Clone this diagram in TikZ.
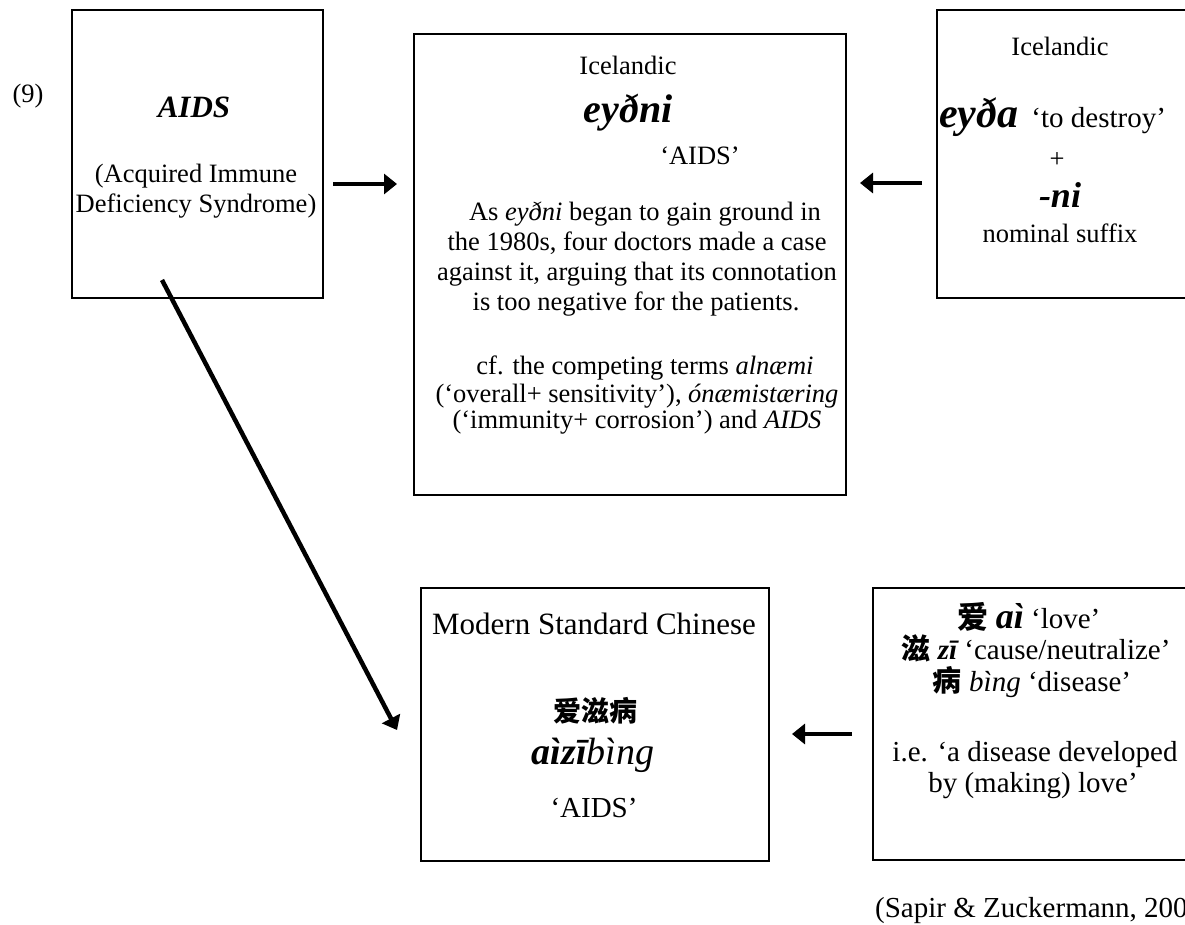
\documentclass[tikz,border=0pt]{standalone}
\usepackage{fontspec}
\setmainfont{Liberation Serif}
\newfontfamily\cjk{Noto Sans CJK SC}
\usetikzlibrary{arrows.meta}
\newcommand{\fs}[1]{\fontsize{#1}{#1}\selectfont}
\newcommand{\bi}[1]{{\bfseries\itshape #1}}
\begin{document}
\begin{tikzpicture}[x=1pt,y=-1pt,
  box/.style={draw, line width=1.6pt, inner sep=0pt, anchor=north west},
  conn/.style={line width=4.5pt, -{Triangle[length=13pt,width=20pt]}},
  t/.style={inner sep=0pt, anchor=mid, font=\fs{26.5}},
  tb/.style={inner sep=0pt, anchor=mid, font=\fs{29}},
]
\useasboundingbox (0,0) rectangle (1185,925);

% boxes
\node[box, minimum width=251pt, minimum height=288pt] (src) at (71,9) {};
\node[box, minimum width=432pt, minimum height=461pt] (ice) at (413,33) {};
\node[box, minimum width=256pt, minimum height=288pt] (icesrc) at (936,9) {};
\node[box, minimum width=348pt, minimum height=273pt] (msc) at (420,587) {};
\node[box, minimum width=320pt, minimum height=272pt] (mscsrc) at (872,587) {};

% connector ends
\coordinate (a1s) at (333,184);
\coordinate (a1e) at (397,184);
\coordinate (a2s) at (922,183);
\coordinate (a2e) at (860,183);
\coordinate (a3s) at (162,280);
\coordinate (a3e) at (397,730);
\coordinate (a4s) at (852,734);
\coordinate (a4e) at (792,734);
\draw[conn] (a1s) -- (a1e);
\draw[conn] (a2s) -- (a2e);
\draw[conn] (a3s) -- (a3e);
\draw[conn] (a4s) -- (a4e);

% left box
\node[t] (num) at (28,100) {(9)};
\node[t, font=\fs{31}] (aids) at (194,115) {\bi{AIDS}};
\node[t] (acq1) at (196,180) {(Acquired Immune};
\node[t] (acq2) at (196,210) {Deficiency Syndrome)};

% centre box
\node[t] (ice1) at (628,72) {Icelandic};
\node[t, font=\fs{40}] (eydni) at (628,120) {\bi{eyðni}};
\node[t] (ice3) at (700,162) {‘AIDS’};
\node[t] (p1) at (645,218) {As \textit{eyðni} began to gain ground in};
\node[t] (p2) at (637,248) {the 1980s, four doctors made a case};
\node[t] (p3) at (637,278) {against it, arguing that its connotation};
\node[t] (p4) at (636,308) {is too negative for the patients.};
\node[t] (p5) at (645,372) {cf. the competing terms \textit{alnæmi}};
\node[t] (p6) at (637,400) {(‘overall+ sensitivity’), \textit{ónæmistæring}};
\node[t] (p7) at (637,426) {(‘immunity+ corrosion’) and \textit{AIDS}};

% right top box
\node[t] (r1) at (1060,53) {Icelandic};
\node[t, anchor=mid west] (r2) at (939,125) {{\fs{42}\bi{eyða}}\hspace{13pt}{\fs{29}‘to destroy’}};
\node[t] (r3) at (1057,165) {+};
\node[t, font=\fs{36}] (r4) at (1060,205) {\bi{-ni}};
\node[t] (r5) at (1060,240) {nominal suffix};

% bottom centre box
\node[tb, font=\fs{31}] (m1) at (594,632) {Modern Standard Chinese};
\node[tb, font=\fs{28}] (m2) at (595,719) {\cjk\bfseries 爱滋病};
\node[tb, font=\fs{38}] (m3) at (593,762) {\bi{aìzī}\textit{bìng}};
\node[tb] (m4) at (594,815) {‘AIDS’};

% bottom right box
\node[tb] (c1) at (1029,626) {{\fs{31}\cjk\bfseries 爱} {\fs{36}\bi{aì}} ‘love’};
\node[tb] (c2) at (1036,657) {{\cjk\bfseries 滋} {\fs{29}\bi{zī}} ‘cause/neutralize’};
\node[tb] (c3) at (1032,689) {{\cjk\bfseries 病} \textit{bìng} ‘disease’};
\node[tb] (c4) at (1035,759) {i.e. ‘a disease developed};
\node[tb] (c5) at (1033,790) {by (making) love’};

% citation
\node[tb, anchor=mid west] (cite) at (875,915) {(Sapir \& Zuckermann, 2008)};
\end{tikzpicture}
\end{document}
